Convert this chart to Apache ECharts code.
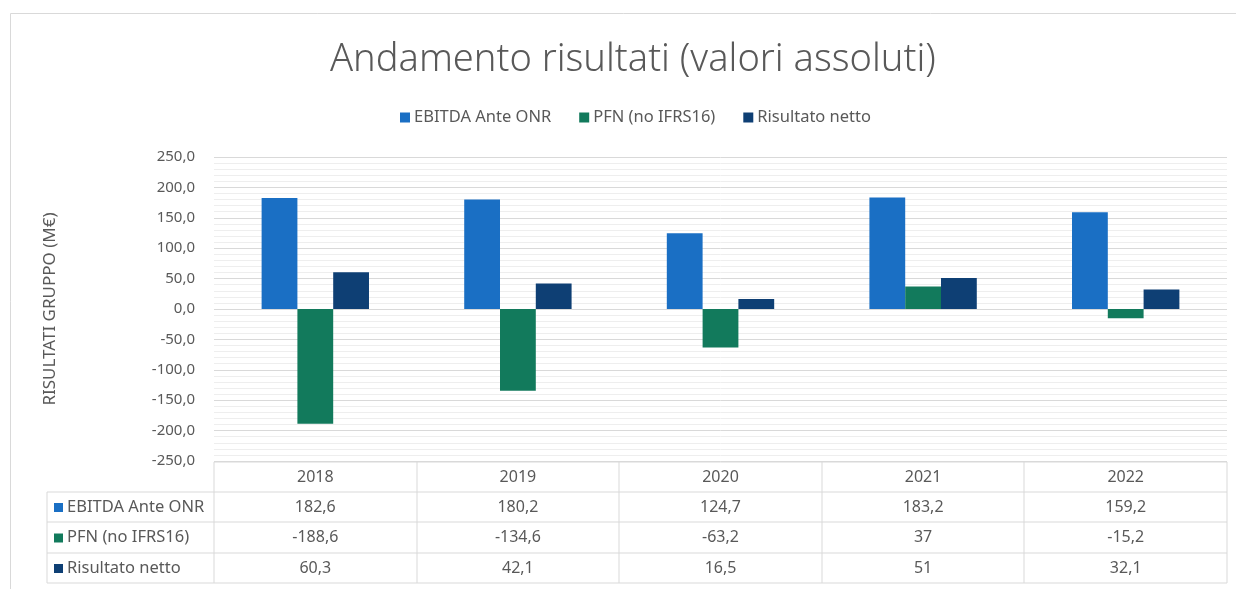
<!DOCTYPE html>
<html>
<head>
<meta charset="utf-8">
<script src="https://cdn.jsdelivr.net/npm/echarts@6/dist/echarts.min.js"></script>
<style>
html, body { margin: 0; padding: 0; background: #fff; }
#main { width: 1236px; height: 589px; }
</style>
</head>
<body>
<div id="main"></div>
<script>
// dati del grafico
var years = ['2018', '2019', '2020', '2021', '2022'];
var ebitda = [182.6, 180.2, 124.7, 183.2, 159.2];
var pfn = [-188.6, -134.6, -63.2, 37, -15.2];
var risultato = [60.3, 42.1, 16.5, 51, 32.1];
var seriesNames = ['EBITDA Ante ONR', 'PFN (no IFRS16)', 'Risultato netto'];
var colors = ['#1A6FC4', '#127A5C', '#0E3F74'];

var FONT = 'Noto Sans';
var gridLeft = 214, gridRight = 9, gridTop = 157, gridBottom = 128;
var W = 1236, H = 589;

function fmt(v) {
    return String(v).replace('.', ',');
}

var chart = echarts.init(document.getElementById('main'));

function buildTable() {
    var els = [];
    var lineColor = '#d9d9d9';
    var x0 = gridLeft, x1 = W - gridRight;
    var colW = (x1 - x0) / years.length;
    var rowY = [462, 492, 522, 553, 583];
    var leftX = 47;
    // linee orizzontali
    els.push({type: 'line', shape: {x1: x0, y1: rowY[0], x2: x1, y2: rowY[0]}, style: {stroke: lineColor, lineWidth: 1}});
    for (var r = 1; r < rowY.length; r++) {
        els.push({type: 'line', shape: {x1: leftX, y1: rowY[r], x2: x1, y2: rowY[r]}, style: {stroke: lineColor, lineWidth: 1}});
    }
    // linee verticali
    els.push({type: 'line', shape: {x1: leftX, y1: rowY[1], x2: leftX, y2: rowY[4]}, style: {stroke: lineColor, lineWidth: 1}});
    for (var c = 0; c <= years.length; c++) {
        var xx = Math.round(x0 + c * colW);
        els.push({type: 'line', shape: {x1: xx, y1: rowY[0], x2: xx, y2: rowY[4]}, style: {stroke: lineColor, lineWidth: 1}});
    }
    // intestazioni anni e valori
    var rows = [ebitda, pfn, risultato];
    for (var i = 0; i < years.length; i++) {
        var cx = x0 + (i + 0.5) * colW;
        els.push({type: 'text', x: cx, y: (rowY[0] + rowY[1]) / 2, style: {text: years[i], fill: '#595959', font: '16px "' + FONT + '"', align: 'center', verticalAlign: 'middle'}});
        for (var k = 0; k < rows.length; k++) {
            els.push({type: 'text', x: cx, y: (rowY[k + 1] + rowY[k + 2]) / 2, style: {text: fmt(rows[k][i]), fill: '#595959', font: '16px "' + FONT + '"', align: 'center', verticalAlign: 'middle'}});
        }
    }
    // legenda nella tabella
    for (var s = 0; s < seriesNames.length; s++) {
        var cy = (rowY[s + 1] + rowY[s + 2]) / 2;
        els.push({type: 'rect', shape: {x: 54, y: cy - 4, width: 9, height: 9}, style: {fill: colors[s]}});
        els.push({type: 'text', x: 67, y: cy, style: {text: seriesNames[s], fill: '#595959', font: '16.5px "' + FONT + '"', align: 'left', verticalAlign: 'middle'}});
    }
    // bordo esterno del grafico
    els.push({type: 'rect', shape: {x: 10.5, y: 13.5, width: 1240, height: 600}, style: {fill: 'none', stroke: '#d9d9d9', lineWidth: 1}, z: -1});
    return els;
}

function setSerie() {
    var data = [ebitda, pfn, risultato];
    var serie = [];
    for (var i = 0; i < data.length; i++) {
        serie.push({
            name: seriesNames[i],
            type: 'bar',
            data: data[i],
            barGap: '0%',
            barCategoryGap: '47%',
            itemStyle: {color: colors[i]}
        });
    }
    return serie;
}

chart.setOption({
    animation: false,
    textStyle: {fontFamily: FONT},
    title: {
        text: 'Andamento risultati (valori assoluti)',
        left: 325,
        top: 36,
        textStyle: {fontSize: 38, fontWeight: 300, color: '#595959', fontFamily: FONT}
    },
    legend: {
        data: seriesNames,
        top: 104,
        left: 395,
        itemWidth: 10,
        itemHeight: 10,
        itemGap: 28,
        icon: 'rect',
        textStyle: {fontSize: 16.5, color: '#595959', padding: [0, 0, 0, -1]}
    },
    grid: {left: gridLeft, right: gridRight, top: gridTop, bottom: gridBottom, containLabel: false},
    xAxis: {
        type: 'category',
        data: years,
        position: 'bottom',
        axisLine: {show: false},
        axisTick: {show: false},
        axisLabel: {show: false}
    },
    yAxis: {
        type: 'value',
        min: -250,
        max: 250,
        interval: 50,
        name: 'RISULTATI GRUPPO (M€)',
        nameLocation: 'middle',
        nameGap: 155,
        nameRotate: 90,
        nameTextStyle: {fontSize: 17, color: '#595959'},
        axisLine: {show: false},
        axisTick: {show: false},
        axisLabel: {
            fontSize: 15,
            color: '#595959',
            margin: 19,
            formatter: function (v) { return v.toFixed(1).replace('.', ','); }
        },
        splitLine: {lineStyle: {color: '#d9d9d9', width: 1}},
        minorTick: {show: false, splitNumber: 5},
        minorSplitLine: {show: true, lineStyle: {color: '#eeeeee', width: 1}}
    },
    series: setSerie(),
    graphic: buildTable()
});
</script>
</body>
</html>
